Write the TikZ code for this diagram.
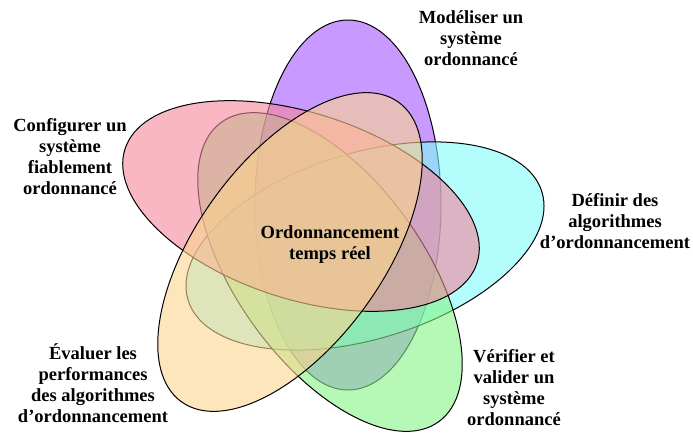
\documentclass[tikz,border=0pt]{standalone}
\usepackage{fontspec}
\setmainfont{Liberation Serif}

\definecolor{petalPurple}{RGB}{163,85,255}
\definecolor{petalCyan}{RGB}{128,252,252}
\definecolor{petalGreen}{RGB}{133,245,133}
\definecolor{petalPink}{RGB}{245,133,155}
\definecolor{petalYellow}{RGB}{253,213,143}

\begin{document}
\begin{tikzpicture}[x=1pt,y=-1pt,
    petal/.style={draw=black, line width=1pt, fill opacity=0.6},
    petaltext/.style={font=\bfseries\fontsize{18.5}{21}\selectfont, align=center, inner sep=0pt}]
    % Fix the picture size
    \useasboundingbox (0,0) rectangle (693,434);

    % Define petal size
    \def\major{185pt}
    \def\minor{93pt}

    % Draw petals (centre x / centre y / angle / colour)
    \foreach \cx/\cy/\ang/\col in {348/205/90/petalPurple, 365/246/17/petalCyan,
        330/272/-54/petalGreen, 301/206/-18/petalPink, 290/252/54/petalYellow}
        \draw[petal, fill=\col, rotate around={\ang:(\cx,\cy)}] (\cx,\cy) ellipse [x radius=\major, y radius=\minor];

    % Place labels
    \node[petaltext] (centre) at (330,245) {Ordonnancement\\temps réel};
    \node[petaltext] (model) at (471,38) {Modéliser un\\système\\ordonnancé};
    \node[petaltext] (define) at (615,221) {Définir des\\algorithmes\\d’ordonnancement};
    \node[petaltext] (verify) at (514,388) {Vérifier et\\valider un\\système\\ordonnancé};
    \node[petaltext] (evaluate) at (93,383) {Évaluer les\\performances\\des algorithmes\\d’ordonnancement};
    \node[petaltext] (configure) at (70,157) {Configurer un\\système\\fiablement\\ordonnancé};

\end{tikzpicture}
\end{document}
